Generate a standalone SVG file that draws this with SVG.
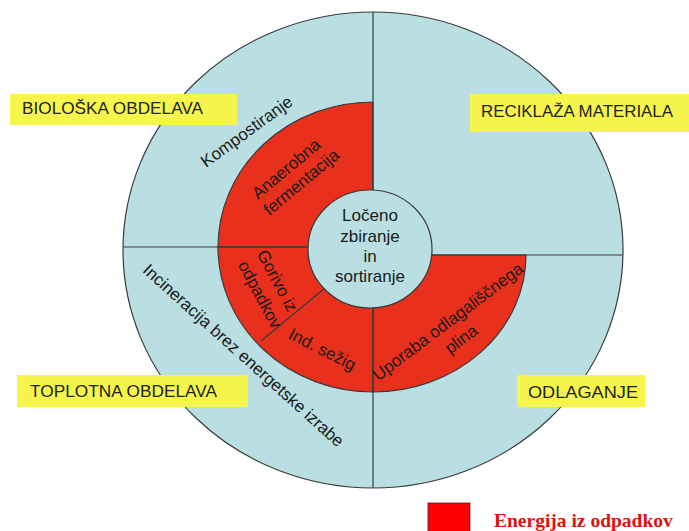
<svg xmlns="http://www.w3.org/2000/svg" width="689" height="531" viewBox="0 0 689 531">
<style>
.ln{fill:none;stroke:#3a3a3a;stroke-width:1.2}
.blue{fill:#badfe3;stroke:#3a3a3a;stroke-width:1.2}
.red{fill:#e8301c;stroke:#3a3a3a;stroke-width:1.2}
.box{fill:#f5f54c}
.t{font-family:"Liberation Sans",Arial,sans-serif;font-size:17px;fill:#1a1a1a}
.lbl{font-family:"Liberation Sans",Arial,sans-serif;font-size:16.5px;fill:#222}
.mid{text-anchor:middle}
</style>
<rect width="689" height="531" fill="#ffffff"/>
<g id="outer-ring">
<ellipse class="blue" cx="373" cy="250" rx="250" ry="238"/>
</g>
<g id="red-upper-left">
<path class="red" d="M373 247 L218 247 A155 145 0 0 1 373 102 Z"/>
</g>
<g id="red-lower-left">
<path class="red" d="M373 247 L373 392 A155 145 0 0 1 218 247 Z"/>
</g>
<g id="red-lower-right">
<path class="red" d="M373 255 L526 255 A153 137 0 0 1 373 392 Z"/>
</g>
<g id="connectors">
<line class="ln" x1="373" y1="12" x2="373" y2="192"/>
<line class="ln" x1="373" y1="306" x2="373" y2="488"/>
<line class="ln" x1="123" y1="247" x2="310" y2="247"/>
<line class="ln" x1="430" y1="255" x2="623" y2="255"/>
<line class="ln" x1="325" y1="288" x2="261" y2="341"/>
</g>
<g id="center">
<ellipse class="blue" cx="370" cy="249" rx="62" ry="59"/>
<text class="t mid" x="370" y="221" fill="#333">Ločeno</text>
<text class="t mid" x="370" y="242">zbiranje</text>
<text class="t mid" x="370" y="262">in</text>
<text class="t mid" x="370" y="282">sortiranje</text>
</g>
<g id="kompostiranje">
<text class="t mid" transform="translate(247 132) rotate(-36)" x="0" y="5">Kompostiranje</text>
</g>
<g id="anaerobna">
<g transform="translate(293 177) rotate(-40)">
<text class="t mid" x="0" y="-5">Anaerobna</text>
<text class="t mid" x="3" y="15">fermentacija</text>
</g>
</g>
<g id="gorivo">
<g transform="translate(268 288) rotate(62)">
<text class="t mid" x="-2" y="-6">Gorivo iz</text>
<text class="t mid" x="2" y="16">odpadkov</text>
</g>
</g>
<g id="ind-sezig">
<text class="t mid" transform="translate(322 350) rotate(27)" x="0" y="5">Ind. sežig</text>
</g>
<g id="uporaba">
<g transform="translate(455 331) rotate(-37)">
<text class="t mid" x="0" y="-6">Uporaba odlagališčnega</text>
<text class="t mid" x="0" y="16">plina</text>
</g>
</g>
<g id="incineracija">
<text class="t mid" transform="translate(243 356) rotate(42)" x="0" y="5">Incineracija brez energetske izrabe</text>
</g>
<g id="biloska">
<rect class="box" x="10" y="94" width="227" height="31"/>
<text class="lbl" x="22" y="114" textLength="181" lengthAdjust="spacingAndGlyphs">BIOLOŠKA OBDELAVA</text>
</g>
<g id="reciklaza">
<rect class="box" x="470" y="94" width="219" height="38"/>
<text class="lbl" x="481" y="117" textLength="192" lengthAdjust="spacingAndGlyphs">RECIKLAŽA MATERIALA</text>
</g>
<g id="toplotna">
<rect class="box" x="17" y="375" width="231" height="32"/>
<text class="lbl" x="30" y="397" textLength="187" lengthAdjust="spacingAndGlyphs">TOPLOTNA OBDELAVA</text>
</g>
<g id="odlaganje">
<rect class="box" x="517" y="375" width="128" height="32"/>
<text class="lbl" x="528" y="398" textLength="110" lengthAdjust="spacingAndGlyphs">ODLAGANJE</text>
</g>
<g id="legend">
<rect x="428" y="503" width="42" height="30" fill="#ff0000" stroke="#5a1a1a" stroke-width="0.8"/>
<text x="494" y="527" font-family="'Liberation Serif','Times New Roman',serif" font-weight="bold" font-size="19.5" fill="#e01010">Energija iz odpadkov</text>
</g>
</svg>
